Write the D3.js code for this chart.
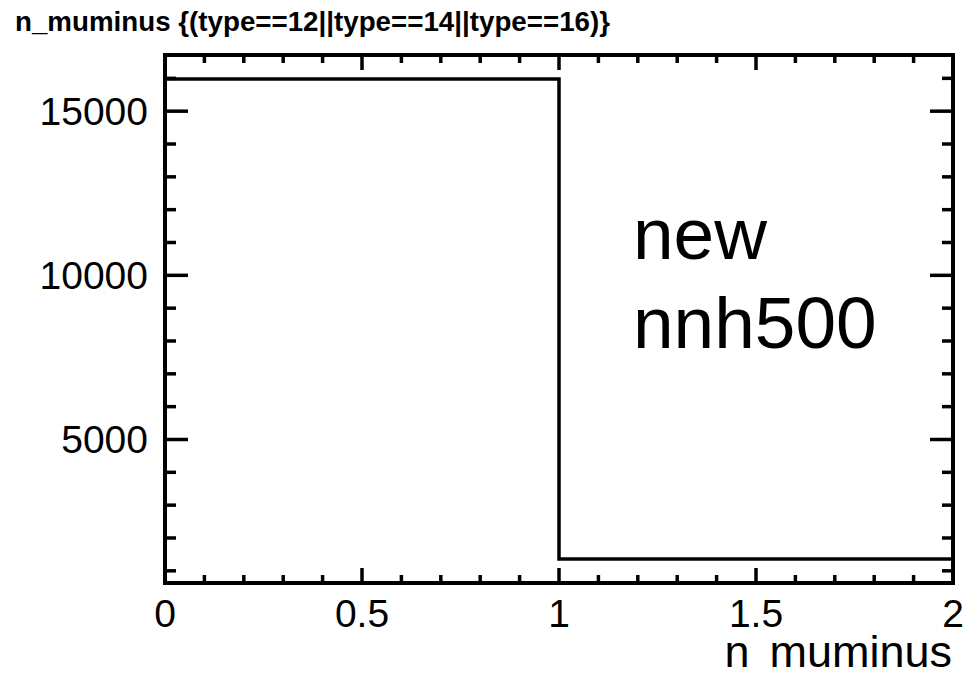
<!DOCTYPE html>
<html>
<head>
<meta charset="utf-8">
<script src="https://cdn.jsdelivr.net/npm/d3@7"></script>
<style>
  body { margin: 0; background: #fff; }
  text { font-family: "Liberation Sans", Arial, Helvetica, sans-serif; fill: #000; }
</style>
</head>
<body>
<svg width="976" height="679"></svg>
<script>
// histogram bins (n_muminus) and counts
var binEdges = [0, 1, 2];
var counts = [15980, 1360];
var xTicks = [0, 0.5, 1, 1.5, 2];
var yTicks = [5000, 10000, 15000];
var titleText = "n_muminus {(type==12||type==14||type==16)}";
var legendLines = ["new", "nnh500"];

var svg = d3.select("svg");
var padL = 165, padR = 953, padT = 55, padB = 583;

// ROOT style y range: 5% margin around min/max
var lo = d3.min(counts), hi = d3.max(counts), pad = (hi - lo) * 0.05;
var x = d3.scaleLinear().domain([0, 2]).range([padL, padR]);
var y = d3.scaleLinear().domain([lo - pad, hi + pad]).range([padB, padT]);

var g = svg.append("g");

// minor + major ticks, all four sides
var xMinor = d3.range(0, 2.0001, 0.1);
var yMinor = d3.range(1000, y.domain()[1], 1000);

function isMajorX(v) { return Math.abs(v * 2 - Math.round(v * 2)) < 1e-6; }

g.selectAll(".xt").data(xMinor).enter().append("line")
  .attr("x1", function(d) { return x(d); })
  .attr("x2", function(d) { return x(d); })
  .attr("y1", padB)
  .attr("y2", function(d) { return padB - (isMajorX(d) ? 15 : 8); })
  .attr("stroke", "#000").attr("stroke-width", 3.5);
g.selectAll(".xtt").data(xMinor).enter().append("line")
  .attr("x1", function(d) { return x(d); })
  .attr("x2", function(d) { return x(d); })
  .attr("y1", padT)
  .attr("y2", function(d) { return padT + (isMajorX(d) ? 15 : 8); })
  .attr("stroke", "#000").attr("stroke-width", 3.5);

g.selectAll(".yt").data(yMinor).enter().append("line")
  .attr("x1", padL)
  .attr("x2", function(d) { return padL + (d % 5000 == 0 ? 23 : 11); })
  .attr("y1", function(d) { return y(d); })
  .attr("y2", function(d) { return y(d); })
  .attr("stroke", "#000").attr("stroke-width", 3.5);
g.selectAll(".ytr").data(yMinor).enter().append("line")
  .attr("x1", padR)
  .attr("x2", function(d) { return padR - (d % 5000 == 0 ? 23 : 11); })
  .attr("y1", function(d) { return y(d); })
  .attr("y2", function(d) { return y(d); })
  .attr("stroke", "#000").attr("stroke-width", 3.5);

// histogram outline
var path = d3.path();
path.moveTo(x(binEdges[0]), y(counts[0]));
counts.forEach(function(c, i) {
  if (i > 0) path.lineTo(x(binEdges[i]), y(c));
  path.lineTo(x(binEdges[i + 1]), y(c));
});
g.append("path").attr("d", path.toString())
  .attr("fill", "none").attr("stroke", "#000").attr("stroke-width", 3.5);

// frame
g.append("rect")
  .attr("x", padL).attr("y", padT)
  .attr("width", padR - padL).attr("height", padB - padT)
  .attr("fill", "none").attr("stroke", "#000").attr("stroke-width", 4);

// tick labels
g.selectAll(".xl").data(xTicks).enter().append("text")
  .attr("x", function(d) { return x(d); })
  .attr("y", 627)
  .attr("text-anchor", "middle")
  .style("font-size", "39px")
  .text(function(d) { return d; });

g.selectAll(".yl").data(yTicks).enter().append("text")
  .attr("x", padL - 17)
  .attr("y", function(d) { return y(d) + 14; })
  .attr("text-anchor", "end")
  .style("font-size", "39px")
  .text(function(d) { return d; });

// axis title (underscore shown as a gap)
var xTitle = g.append("text")
  .attr("x", 952).attr("y", 667)
  .attr("text-anchor", "end")
  .style("font-size", "45px");
xTitle.append("tspan").text("n");
xTitle.append("tspan").attr("dx", 20).text("muminus");

// title
svg.append("text")
  .attr("x", 15).attr("y", 31)
  .attr("textLength", 595)
  .attr("lengthAdjust", "spacingAndGlyphs")
  .style("font-size", "27px").style("font-weight", "bold")
  .text(titleText);

// legend text
svg.selectAll(".lg").data(legendLines).enter().append("text")
  .attr("x", 633)
  .attr("y", function(d, i) { return 259 + i * 89; })
  .style("font-size", "73px")
  .text(function(d) { return d; });
</script>
</body>
</html>
